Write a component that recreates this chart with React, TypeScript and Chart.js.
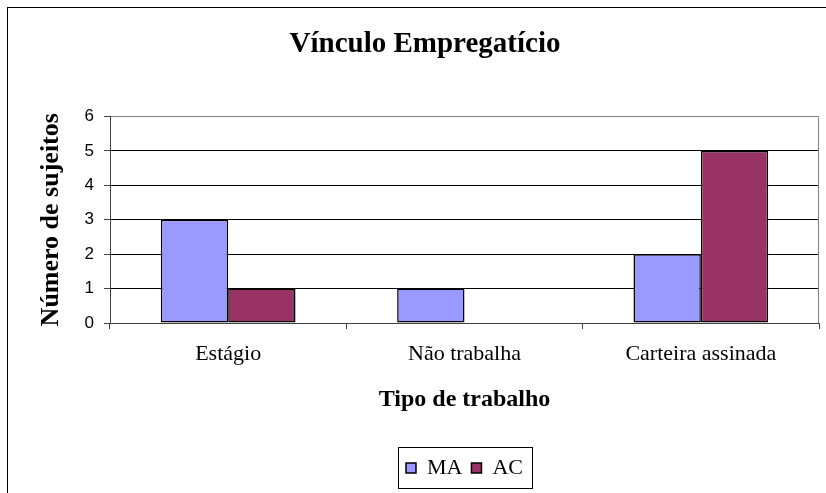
import React, { useEffect, useRef } from 'react';
import { Chart, registerables } from 'chart.js';

Chart.register(...registerables);

const categories = ['Estágio', 'Não trabalha', 'Carteira assinada'];
const seriesNames = ['MA', 'AC'];
const maValues = [3, 1, 2];
const acValues = [1, 0, 5];
const yTicks = [0, 1, 2, 3, 4, 5, 6];
const seriesColors = ['#9999FF', '#993366'];

const framePlugin = {
  id: 'frame',
  afterDraw(chart: any) {
    const ctx = chart.ctx;
    const ca = chart.chartArea;
    ctx.save();
    // plot area right border
    ctx.strokeStyle = '#808080';
    ctx.lineWidth = 1;
    ctx.beginPath();
    ctx.moveTo(Math.round(ca.right) - 0.5, Math.round(ca.top) + 0.5);
    ctx.lineTo(Math.round(ca.right) - 0.5, Math.round(ca.bottom));
    ctx.stroke();
    // outer chart border
    ctx.strokeStyle = '#000';
    ctx.strokeRect(7.5, 7.5, 900, 600);
    // legend border
    const lg = chart.legend;
    if (lg && lg.legendHitBoxes && lg.legendHitBoxes.length) {
      const hb = lg.legendHitBoxes;
      const l = Math.round(hb[0].left - 8) + 0.5;
      const last = hb[hb.length - 1];
      const r = Math.round(last.left + last.width + 9) + 0.5;
      const t = Math.round(lg.top) - 0.5;
      const b = Math.round(lg.bottom) - 0.5;
      ctx.strokeRect(l, t, r - l, b - t);
    }
    ctx.restore();
  },
};

export default function App() {
  const ref = useRef<HTMLCanvasElement | null>(null);
  useEffect(() => {
    if (!ref.current) return;
    const chart = new Chart(ref.current, {
      type: 'bar',
      data: {
        labels: categories,
        datasets: [
          {
            label: seriesNames[0],
            data: maValues,
            backgroundColor: seriesColors[0],
            borderColor: '#000',
            borderWidth: 1.5,
            borderSkipped: false,
            categoryPercentage: 0.57,
            barPercentage: 1.0,
          },
          {
            label: seriesNames[1],
            data: acValues,
            backgroundColor: seriesColors[1],
            borderColor: '#000',
            borderWidth: 1.5,
            borderSkipped: false,
            categoryPercentage: 0.57,
            barPercentage: 1.0,
          },
        ],
      },
      options: {
        animation: false,
        responsive: false,
        devicePixelRatio: 1,
        layout: { padding: { left: 31, right: 7, top: 0, bottom: 4 } },
        plugins: {
          title: {
            display: true,
            text: 'Vínculo Empregatício',
            color: '#000',
            font: { family: 'Liberation Serif', size: 29, weight: 'bold' },
            padding: { top: 27, bottom: 54.7 },
          },
          legend: {
            position: 'bottom',
            fullSize: false,
            labels: {
              boxWidth: 10,
              boxHeight: 10,
              padding: 9,
              color: '#000',
              font: { family: 'Liberation Serif', size: 22 },
            },
          },
          tooltip: { enabled: false },
        },
        scales: {
          x: {
            afterFit: (s: any) => {
              s.height = 125;
            },
            grid: {
              drawOnChartArea: false,
              offset: true,
              tickLength: 6,
              tickColor: '#404040',
            },
            border: { color: '#404040', width: 1 },
            ticks: {
              color: '#000',
              padding: 12,
              font: { family: 'Liberation Serif', size: 22 },
            },
            title: {
              display: true,
              text: 'Tipo de trabalho',
              color: '#000',
              font: { family: 'Liberation Serif', size: 24, weight: 'bold' },
              padding: { top: 0, bottom: 34 },
            },
          },
          y: {
            min: 0,
            max: 6,
            afterFit: (s: any) => {
              s.width = 79;
            },
            afterBuildTicks: (s: any) => {
              s.ticks = yTicks.map((v) => ({ value: v }));
            },
            ticks: {
              color: '#000',
              padding: 10,
              font: { family: 'Liberation Sans', size: 17 },
            },
            grid: {
              color: (c: any) => (c.tick && c.tick.value === 6 ? '#808080' : '#000'),
              tickColor: '#404040',
              tickLength: 6,
            },
            border: { color: '#404040' },
            title: {
              display: true,
              text: 'Número de sujeitos',
              color: '#000',
              font: { family: 'Liberation Serif', size: 26, weight: 'bold' },
              padding: { top: 5, bottom: 0 },
            },
          },
        },
      },
      plugins: [framePlugin],
    } as any);
    return () => chart.destroy();
  }, []);
  return (
    <div style={{ position: 'absolute', left: 0, top: 0, width: 826, height: 493, background: '#fff' }}>
      <canvas ref={ref} width={826} height={493} />
    </div>
  );
}
